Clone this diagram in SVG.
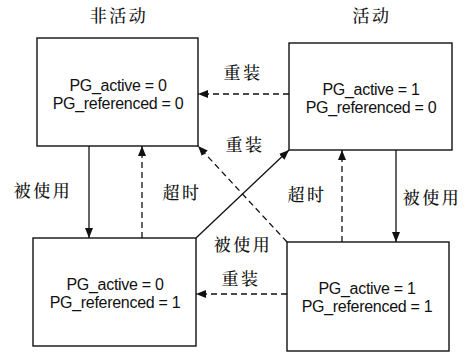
<svg xmlns="http://www.w3.org/2000/svg" width="471" height="354" viewBox="0 0 471 354">
<style>
.box{fill:#fff;stroke:#111;stroke-width:1.4}
.st{font-family:"Liberation Sans",Arial,sans-serif;font-size:16px;fill:#111;text-anchor:middle;letter-spacing:-0.3px}
.cn{font-family:"Noto Serif CJK SC","Noto Sans CJK SC",serif;font-size:17px;font-weight:500;fill:#111;text-anchor:middle;letter-spacing:2.5px}
.ln{stroke:#111;stroke-width:1.3;fill:none}
.dash{stroke-dasharray:6 4}
</style>
<defs>
<marker id="ah" viewBox="0 0 10 8" refX="10" refY="4" markerWidth="10" markerHeight="8" markerUnits="userSpaceOnUse" orient="auto">
<path d="M0,0 L10,4 L0,8 Z" fill="#111"/>
</marker>
</defs>
<text class="cn" x="119" y="22">非活动</text>
<text class="cn" x="372" y="22">活动</text>
<g id="n00">
<rect class="box" x="37" y="38" width="161" height="108"/>
<text class="st" x="118" y="91">PG_active = 0</text>
<text class="st" x="118" y="109">PG_referenced = 0</text>
</g>
<g id="n10">
<rect class="box" x="289" y="43" width="163" height="107"/>
<text class="st" x="371" y="95">PG_active = 1</text>
<text class="st" x="371" y="113">PG_referenced = 0</text>
</g>
<g id="n01">
<rect class="box" x="33" y="238" width="163" height="108"/>
<text class="st" x="115" y="290">PG_active = 0</text>
<text class="st" x="115" y="308">PG_referenced = 1</text>
</g>
<g id="n11">
<rect class="box" x="287" y="242" width="162" height="109"/>
<text class="st" x="367" y="294">PG_active = 1</text>
<text class="st" x="367" y="312">PG_referenced = 1</text>
</g>
<g id="connectors">
<line class="ln" x1="89" y1="146" x2="89" y2="238" marker-end="url(#ah)"/>
<line class="ln dash" x1="142" y1="238" x2="142" y2="146" marker-end="url(#ah)"/>
<line class="ln" x1="396" y1="150" x2="396" y2="242" marker-end="url(#ah)"/>
<line class="ln dash" x1="342" y1="242" x2="342" y2="150" marker-end="url(#ah)"/>
<line class="ln dash" x1="289" y1="94" x2="198" y2="94" marker-end="url(#ah)"/>
<line class="ln dash" x1="287" y1="294" x2="196" y2="294" marker-end="url(#ah)"/>
<line class="ln" x1="196" y1="238" x2="289" y2="150" marker-end="url(#ah)"/>
<line class="ln dash" x1="287" y1="242" x2="198" y2="146" marker-end="url(#ah)"/>
<text class="cn" x="243" y="79">重装</text>
<text class="cn" x="245" y="151">重装</text>
<text class="cn" x="243" y="251">被使用</text>
<text class="cn" x="241" y="285">重装</text>
<text class="cn" x="43" y="197">被使用</text>
<text class="cn" x="182" y="199">超时</text>
<text class="cn" x="307" y="201">超时</text>
<text class="cn" x="432" y="204">被使用</text>
</g>
</svg>
